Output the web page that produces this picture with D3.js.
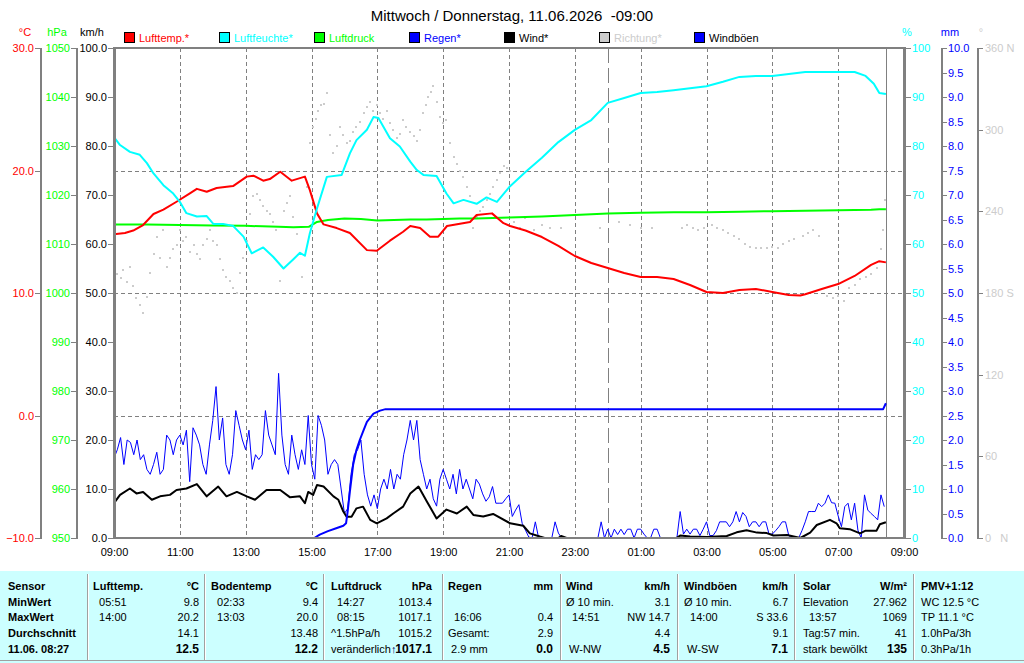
<!DOCTYPE html>
<html><head><meta charset="utf-8">
<script src="https://cdn.jsdelivr.net/npm/d3@7"></script>
<style>
body{margin:0;background:#fff}
svg{display:block}
text{font-family:"Liberation Sans",Arial,sans-serif;white-space:pre}
</style>
</head><body>
<svg id="c" width="1024" height="663"></svg>
<script>
// ---------------- DATA ----------------
const title = "Mittwoch / Donnerstag, 11.06.2026  -09:00";
const xTickHours = [0,2,4,6,8,10,12,14,16,18,20,22,24]; // hours after 09:00
const legendNames = ["Lufttemp.*","Luftfeuchte*","Luftdruck","Regen*","Wind*","Richtung*","Windböen"];

const tempTimes = ["09:00","09:20","09:35","09:53","10:12","10:30","10:54","11:19","11:31","11:49","12:07","12:37","13:02","13:14","13:32","13:44","14:03","14:24","14:48","14:57","15:10","15:22","15:46","16:10","16:41","16:59","17:23","17:47","18:00","18:18","18:36","18:51","19:07","19:49","20:01","20:29","20:50","21:02","21:30","22:00","22:30","23:00","23:30","00:00","00:30","01:00","01:30","02:00","02:30","03:00","03:30","04:00","04:30","05:00","05:30","05:51","06:00","06:30","07:00","07:30","08:00","08:15","08:27"];
const tempValues = [14.8,14.9,15.1,15.55,16.45,16.8,17.45,18.16,18.5,18.27,18.57,18.73,19.5,19.58,19.17,19.3,19.9,19.17,19.5,18.4,16.5,15.6,15.3,14.9,13.5,13.45,14.27,15.0,15.47,15.3,14.6,14.6,15.47,15.8,16.37,16.5,15.7,15.47,15.1,14.57,13.84,13.02,12.45,12.04,11.63,11.31,11.31,11.14,10.65,10.08,10.0,10.24,10.33,10.08,9.84,9.8,9.9,10.33,10.73,11.39,12.29,12.6,12.5];

const humTimes = ["09:00","09:11","09:29","09:47","10:00","10:12","10:30","10:48","11:00","11:12","11:31","11:49","12:01","12:19","12:37","12:56","13:11","13:32","13:50","14:09","14:27","14:39","14:48","14:57","15:09","15:28","15:55","16:10","16:22","16:41","16:53","17:02","17:23","17:41","18:00","18:12","18:24","18:48","19:06","19:19","19:37","20:01","20:19","20:38","21:02","21:30","22:00","22:30","23:00","23:30","00:00","00:30","01:00","01:30","02:00","02:30","03:00","03:30","04:00","04:30","05:00","05:30","06:00","06:30","07:00","07:30","07:50","08:05","08:15","08:27"];
const humValues = [81.8,80.2,78.8,78.2,76.5,74.4,72.0,70.3,68.6,66.3,65.6,65.7,64.1,64.1,63.7,61.5,58.1,59.3,57.4,55.0,56.9,58.2,57.6,62.2,66.9,73.7,74.1,78.5,81.2,83.3,85.9,85.7,81.6,79.9,76.8,75.1,74.1,73.9,70.3,68.3,69.0,68.2,69.5,68.6,71.8,74.7,77.6,80.8,83.3,85.3,88.8,89.8,90.8,91.0,91.4,91.8,92.2,93.1,94.1,94.3,94.3,94.7,95.1,95.1,95.1,95.1,94.3,92.7,90.8,90.6];

const pressTimes = ["09:00","10:00","11:00","12:00","13:00","14:00","14:27","14:55","15:10","15:30","16:00","16:30","17:00","17:30","18:00","18:30","19:00","19:30","20:00","20:30","21:00","22:00","23:00","00:00","01:00","02:00","03:00","04:00","05:00","06:00","07:00","08:00","08:15","08:27"];
const pressValues = [1014.0,1014.0,1013.9,1013.8,1013.7,1013.5,1013.4,1013.5,1014.5,1014.9,1015.2,1015.1,1014.8,1014.9,1015.0,1015.0,1015.1,1015.2,1015.2,1015.3,1015.4,1015.6,1015.9,1016.2,1016.4,1016.5,1016.5,1016.6,1016.7,1016.8,1016.9,1017.0,1017.1,1017.1];

const rainTimes = ["09:00","15:05","15:15","15:30","15:45","15:58","16:03","16:06","16:10","16:16","16:22","16:28","16:35","16:41","16:53","17:05","17:15","08:22","08:27"];
const rainValues = [0,0,0.07,0.14,0.2,0.25,0.3,0.55,0.95,1.5,1.8,2.0,2.2,2.37,2.54,2.6,2.63,2.63,2.75];

const windTimes = ["09:00","09:11","09:29","09:41","09:53","10:09","10:24","10:42","10:54","11:12","11:31","11:49","12:10","12:25","12:44","13:02","13:17","13:38","14:03","14:21","14:39","14:48","14:54","15:03","15:10","15:22","15:40","15:49","15:58","16:04","16:13","16:22","16:34","16:47","16:59","17:17","17:29","17:47","18:00","18:15","18:30","18:48","19:06","19:25","19:43","19:55","20:13","20:31","21:02","21:26","21:38","21:56","22:05","22:30","22:35","22:45","02:05","02:12","02:30","03:00","03:37","03:55","04:13","04:32","04:50","05:02","05:27","05:51","06:09","06:21","06:45","06:57","07:03","07:21","07:40","07:50","08:10","08:16","08:27"];
const windValues = [7.1,8.8,10.1,9.1,9.4,7.8,8.5,8.8,9.8,10.1,11.0,8.5,10.5,8.5,9.4,8.5,7.8,9.8,9.8,8.3,8.5,7.1,9.4,8.8,10.8,10.5,8.5,7.8,5.4,4.35,4.35,6.05,6.4,3.7,3.0,4.0,5.0,6.4,9.1,10.5,7.5,4.0,5.8,5.0,6.4,4.7,4.4,4.9,3.0,2.5,0.95,0.3,0,0,0.4,0,0,0.5,0.3,0.2,0.4,1.16,1.6,1.1,1.0,0.5,0.6,0,1.1,2.65,3.7,3.0,2.0,1.8,0.95,1.5,1.5,2.8,3.2];

// gusts: one value every 6 minutes starting 09:00
const gustStepMin = 6;
const gustValues = [16.3,18,20.5,15,20,19.5,17,20,16,17,14,13,15,17.5,13,14,21,20,17,20,
21,19,22,11.5,22.5,21,19,15,13,19,24,30.9,20,24.5,15,13,17,26,23,20,
18,22,14,17,16,17,26,21,19,17,33.6,21,15,13,21,17,14,18,15,25,
15,12,25,23,20,13,15,16,15,10,5,6,13,17,18,20,13,8.8,6.5,8.8,
6,10,12,10,14,10,13,12,17,20,24,20,24,16,13,10,12,8,6.5,12,
14,12,10,13,9,14,10,12,10,8,12,11,9,7.5,8.4,10.5,7.1,7.1,7.1,8,
8.8,4.4,5.7,6.8,3,1.6,0.2,0,3.3,0,0,0,0,0,3.3,1,0,0,0,0,
0,0,0,0,0,0,0,0,3.3,0,1.8,0,1.8,0.7,1.8,0.7,1.8,1.8,0,1.8,
1.8,0.8,0,0,1.8,1.8,0,0,0,0,0,0,5.4,0.8,1.8,0.8,1.8,1.8,0.5,1.8,
3.3,0.5,0.5,1.5,3.3,3.3,3.3,2.3,3.3,5.4,3.3,5.2,4.4,2.3,3.3,3.3,2.3,3.3,3.3,0.8,
0.8,1.5,2.3,3.3,3.3,0.5,0,0,0,1.5,3.3,5.4,5.4,5.4,7.1,6.4,7.1,8.8,7.2,7.1,
4.5,2.3,6.4,7.1,3.7,7.1,1.6,0,8.8,5.7,5,4.4,3.7,8.8,6.4];

const dirTimes = ["09:05","09:12","09:17","09:23","09:29","09:35","09:41","09:47","09:53","10:00","10:06","10:12","10:18","10:24","10:30","10:36","10:42","10:48","10:54","11:00","11:06","11:12","11:18","11:25","11:31","11:37","11:43","11:49","11:55","12:01","12:07","12:13","12:19","12:25","12:31","12:37","12:44","12:50","12:56","13:02","13:08","13:14","13:20","13:26","13:32","13:38","13:44","13:50","13:56","14:03","14:09","14:15","14:21","14:27","14:33","14:42","14:51","14:57","15:03","15:08","15:12","15:17","15:22","15:28","15:34","15:40","15:46","15:52","15:58","16:04","16:10","16:16","16:22","16:28","16:35","16:41","16:47","16:53","16:59","17:05","17:11","17:17","17:23","17:29","17:35","17:41","17:47","17:53","18:00","18:06","18:12","18:18","18:24","18:29","18:33","18:38","18:42","18:48","18:54","19:00","19:06","19:13","19:19","19:25","19:31","19:37","19:43","19:49","19:55","20:01","20:07","20:13","20:19","20:25","20:31","20:38","20:44","20:50","20:56","21:02","21:10","21:20","21:30","21:45","22:00","22:15","22:35","23:45","00:20","00:40","01:00","01:20","02:15","02:25","02:35","02:45","02:55","03:10","03:20","03:30","03:40","03:50","04:00","04:10","04:20","04:30","04:40","04:50","05:00","05:10","05:20","05:30","05:40","05:55","06:05","06:15","06:25","06:40","06:50","07:00","07:10","07:20","07:30","07:40","07:50","08:00","08:10","08:18","08:22","08:26"];
const dirValues = [194,191,197,188,199,185,176,171,165,177,195,209,221,206,226,199,206,212,215,226,218,221,210,215,209,205,215,220,226,218,215,205,197,192,189,184,180,195,206,218,238,251,253,248,244,240,238,232,226,189,240,246,251,236,223,192,258,290,302,308,314,318,319,327,296,283,288,302,296,290,292,298,302,306,312,317,320,314,318,312,308,314,305,300,294,297,307,302,298,295,292,300,312,318,324,328,332,320,309,305,307,290,280,275,270,265,258,251,228,236,240,243,248,253,258,263,268,273,272,270,232,228,235,226,230,228,228,228,232,230,228,228,228,230,228,226,228,230,228,226,224,222,220,216,214,213,213,213,214,213,216,218,220,222,224,226,222,178,176,178,174,184,186,190,192,194,198,212,226,248];

const nowTime = "08:27";

// bottom table
const tableHeaders = [["Sensor",""],["Lufttemp.","°C"],["Bodentemp","°C"],["Luftdruck","hPa"],["Regen","mm"],["Wind","km/h"],["Windböen","km/h"],["Solar","W/m²"],["PMV+1:12",""]];
const tableRows = [
 [["MinWert",""],["  05:51","9.8"],["  02:33","9.4"],["  14:27","1013.4"],["",""],["Ø 10 min.","3.1"],["Ø 10 min.","6.7"],["Elevation","27.962"],["WC 12.5 °C",""]],
 [["MaxWert",""],["  14:00","20.2"],["  13:03","20.0"],["  08:15","1017.1"],["  16:06","0.4"],["  14:51","NW 14.7"],["  14:00","S 33.6"],["  13:57","1069"],["TP 11.1 °C",""]],
 [["Durchschnitt",""],["","14.1"],["","13.48"],["^1.5hPa/h","1015.2"],["Gesamt:","2.9"],["","4.4"],["","9.1"],["Tag:57 min.","41"],["1.0hPa/3h",""]],
 [["11.06. 08:27",""],["","12.5"],["","12.2"],["veränderlich","1017.1"],[" 2.9 mm","0.0"],[" W-NW","4.5"],[" W-SW","7.1"],["stark bewölkt","135"],["0.3hPa/1h",""]]
];

(function(){
// ---------------- LAYOUT / STYLE ----------------
const FONT = '"Liberation Sans",Arial,sans-serif';
const GRAY = "#808080";
const C = {temp:"#ff0000", hum:"#00ffff", press:"#00ff00", rain:"#0000ff", wind:"#000000", dir:"#cccccc", gust:"#0000ff"};
const legendColors = [C.temp,C.hum,C.press,C.rain,C.wind,C.dir,C.gust];
const legendTextColors = [C.temp,C.hum,C.press,C.rain,"#000","#cccccc","#000"];

const svg = d3.select("#c");
const base = new Date(2026,5,10,9,0);
const end = new Date(2026,5,11,9,0);
const parseT = s => { const [h,m] = s.split(":").map(Number); return new Date(2026,5,h<9?11:10,h,m); };
const pTop = 48, pBot = 538, pLeft = 114, pRight = 904;

const x = d3.scaleTime().domain([base,end]).range([pLeft,pRight]);
const yK = d3.scaleLinear().domain([0,100]).range([pBot,pTop]);
const yT = d3.scaleLinear().domain([-10,30]).range([pBot,pTop]);
const yP = d3.scaleLinear().domain([950,1050]).range([pBot,pTop]);
const yH = d3.scaleLinear().domain([0,100]).range([pBot,pTop]);
const yM = d3.scaleLinear().domain([0,10]).range([pBot,pTop]);
const yD = d3.scaleLinear().domain([0,360]).range([pBot,pTop]);

// title
svg.append("text").attr("x",512).attr("y",21).attr("text-anchor","middle")
  .style("font-size","15px").attr("fill","#000").text(title);

// unit labels
const units = [["°C",25,C.temp],["hPa",57,C.press],["km/h",92,"#000"],["%",907,C.hum],["mm",950,C.rain],["°",981,"#cccccc"]];
units.forEach(u => svg.append("text").attr("x",u[1]).attr("y",36).attr("text-anchor","middle")
  .style("font-size","11px").attr("fill",u[2]).text(u[0]));

// legend
legendNames.forEach((n,i) => {
  const lx = 124 + i*95;
  svg.append("rect").attr("x",lx+0.5).attr("y",32.5).attr("width",10).attr("height",10)
    .attr("fill",legendColors[i]).attr("stroke","#000").attr("stroke-width",1);
  svg.append("text").attr("x",lx+15).attr("y",42).style("font-size","11px")
    .attr("fill",legendTextColors[i]).text(n);
});

// grid
const tickDates = xTickHours.map(h => d3.timeHour.offset(base,h));
const grid = svg.append("g").attr("shape-rendering","crispEdges");
grid.selectAll("line.v").data(tickDates.slice(1,-1)).join("line")
  .attr("x1",d=>Math.round(x(d))+0.5).attr("x2",d=>Math.round(x(d))+0.5).attr("y1",pTop).attr("y2",pBot)
  .attr("stroke",GRAY).attr("stroke-dasharray","4,3");
grid.selectAll("line.h").data([25,50,75]).join("line")
  .attr("x1",pLeft).attr("x2",pRight).attr("y1",d=>Math.round(yK(d))+0.5).attr("y2",d=>Math.round(yK(d))+0.5)
  .attr("stroke",GRAY).attr("stroke-dasharray","4,3");
// midnight
const mid = Math.round(x(new Date(2026,5,11,0,0)))+0.5;
grid.append("line").attr("x1",mid).attr("x2",mid).attr("y1",pTop).attr("y2",pBot)
  .attr("stroke",GRAY).attr("stroke-width",1.5).attr("stroke-dasharray","15,5");
// now line
const nx = Math.round(x(parseT(nowTime)))+0.5;
grid.append("line").attr("x1",nx).attr("x2",nx).attr("y1",pTop).attr("y2",pBot).attr("stroke",GRAY);

// direction dots
svg.append("g").selectAll("rect").data(dirTimes.map((t,i)=>[parseT(t),dirValues[i]])).join("rect")
  .attr("x",d=>Math.round(x(d[0]))-1).attr("y",d=>Math.round(yD(d[1]))-1).attr("width",2).attr("height",2)
  .attr("fill",C.dir);

function series(times, values, scale, color, w) {
  const data = times.map((t,i)=>[t,values[i]]);
  svg.append("path").datum(data)
    .attr("d", d3.line().x(d=>x(d[0])).y(d=>scale(d[1])))
    .attr("fill","none").attr("stroke",color).attr("stroke-width",w).attr("stroke-linejoin","round");
}
series(pressTimes.map(parseT), pressValues, yP, C.press, 2);
series(tempTimes.map(parseT), tempValues, yT, C.temp, 2);
series(humTimes.map(parseT), humValues, yH, C.hum, 2);
series(gustValues.map((v,i)=>d3.timeMinute.offset(base,i*gustStepMin)), gustValues, yK, C.gust, 1);
series(windTimes.map(parseT), windValues, yK, C.wind, 2);
series(rainTimes.map(parseT), rainValues, yM, C.rain, 2);

// plot frame
const frame = svg.append("g").attr("stroke",GRAY).attr("shape-rendering","crispEdges");
frame.append("line").attr("x1",pLeft).attr("x2",pRight).attr("y1",pTop).attr("y2",pTop).attr("stroke-width",2);
frame.append("line").attr("x1",pLeft).attr("x2",pRight).attr("y1",pBot).attr("y2",pBot).attr("stroke-width",2);
frame.append("line").attr("x1",pLeft).attr("x2",pLeft).attr("y1",pTop-1).attr("y2",pBot+1).attr("stroke-width",3);
frame.append("line").attr("x1",pRight).attr("x2",pRight).attr("y1",pTop-1).attr("y2",pBot+1).attr("stroke-width",3);

// y axes
function yAxis(gen, xpos, color, drawLine) {
  const g = svg.append("g").attr("transform",`translate(${xpos},0)`).call(gen);
  g.attr("font-family",FONT).attr("font-size",11);
  g.select(".domain").remove();
  g.selectAll(".tick line").attr("stroke",GRAY).attr("shape-rendering","crispEdges");
  g.selectAll(".tick text").attr("fill",color);
  if (drawLine) svg.append("line").attr("x1",xpos).attr("x2",xpos).attr("y1",pTop).attr("y2",pBot+1)
    .attr("stroke",GRAY).attr("stroke-width",2).attr("shape-rendering","crispEdges");
  return g;
}
yAxis(d3.axisLeft(yT).tickValues([-10,0,10,20,30]).tickFormat(d3.format(".1f")).tickSize(6).tickPadding(1), 41, C.temp, true);
yAxis(d3.axisLeft(yP).tickValues(d3.range(950,1051,10)).tickFormat(d3.format("d")).tickSize(6).tickPadding(1), 77, C.press, true);
yAxis(d3.axisLeft(yK).tickValues(d3.range(0,101,10)).tickFormat(d3.format(".1f")).tickSize(5).tickPadding(1), 113, "#000", false);
yAxis(d3.axisRight(yH).tickValues(d3.range(0,101,10)).tickFormat(d3.format("d")).tickSize(6).tickPadding(1), 905, C.hum, false);
yAxis(d3.axisRight(yM).tickValues(d3.range(0,10.01,0.5)).tickFormat(d3.format(".1f")).tickSize(5).tickPadding(1), 942, C.rain, true);
yAxis(d3.axisRight(yD).tickValues([0,60,120,180,240,300,360])
   .tickFormat(d => d===360?"360 N":d===180?"180 S":d===0?"0   N":String(d)).tickSize(5).tickPadding(2), 978, "#cccccc", true);

// x axis
const xa = svg.append("g").attr("transform",`translate(0,${pBot})`)
  .call(d3.axisBottom(x).tickValues(tickDates).tickFormat(d3.timeFormat("%H:%M")).tickSize(0).tickPadding(10));
xa.attr("font-family",FONT).attr("font-size",11);
xa.select(".domain").remove();
xa.selectAll(".tick text").attr("fill","#000");

// ---------------- TABLE ----------------
const tY = 571;
svg.append("rect").attr("x",0).attr("y",tY).attr("width",1024).attr("height",663-tY).attr("fill","#ccffff");
svg.append("line").attr("x1",0).attr("x2",1024).attr("y1",660.5).attr("y2",660.5).attr("stroke","#a0a0a0");
const sepX = [87,204,323,442,560,677,794,913];
sepX.forEach(sx => {
  svg.append("line").attr("x1",sx+0.5).attr("x2",sx+0.5).attr("y1",574).attr("y2",660).attr("stroke","#a0a0a0");
  svg.append("line").attr("x1",sx+1.5).attr("x2",sx+1.5).attr("y1",574).attr("y2",660).attr("stroke","#fff");
});
const colL = [8,93,211,331,448,566,684,803,921];
const colR = [null,199,318,432,553,670,788,907,null];
const rowY = [590,605.5,621,636.5,652.5];
const tg = svg.append("g").style("font-size","11px").attr("fill","#000");
tableHeaders.forEach((h,c) => {
  tg.append("text").attr("x",colL[c]).attr("y",rowY[0]).style("font-weight","bold").text(h[0]);
  if (h[1]) tg.append("text").attr("x",colR[c]).attr("y",rowY[0]).attr("text-anchor","end").style("font-weight","bold").text(h[1]);
});
tableRows.forEach((row,r) => {
  row.forEach((cell,c) => {
    const yy = rowY[r+1];
    if (cell[0]) {
      const t = tg.append("text").attr("x",colL[c]).attr("y",yy).style("font-weight", c===0?"bold":"normal").text(cell[0]);
      if (cell[0]==="veränderlich") t.append("tspan").attr("fill","#000060").style("font-weight","bold").text("↑");
    }
    if (cell[1]) tg.append("text").attr("x",colR[c]).attr("y",yy).attr("text-anchor","end")
      .style("font-weight", r===3?"bold":"normal").style("font-size", r===3?"12px":"11px").text(cell[1]);
  });
});
})();
</script>
</body></html>
